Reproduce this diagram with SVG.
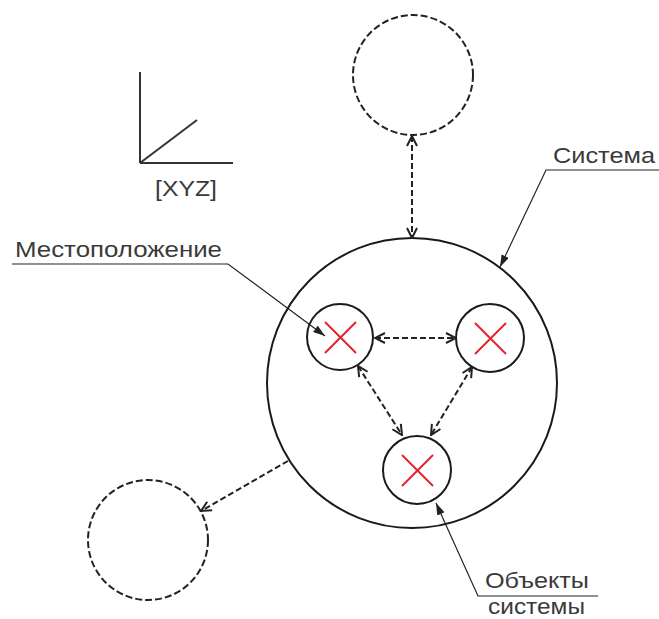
<svg xmlns="http://www.w3.org/2000/svg" width="659" height="619" viewBox="0 0 659 619">
<style>
.solid{fill:none;stroke:#1a1a1a;stroke-width:2}
.dcirc{fill:none;stroke:#222;stroke-width:2;stroke-dasharray:7 3}
.dline{fill:none;stroke:#222;stroke-width:2;stroke-dasharray:6 3}
.lead{fill:none;stroke:#222;stroke-width:1.2}
.x{stroke:#e8202a;stroke-width:2}
.t{font-family:"Liberation Sans",Arial,sans-serif;font-size:22px;fill:#3a3a3a}
</style>
<defs>
<marker id="v" viewBox="0 0 12 12" refX="11" refY="6" markerWidth="12" markerHeight="12" markerUnits="userSpaceOnUse" orient="auto-start-reverse">
<path d="M1,1 L11,6 L1,11" fill="none" stroke="#222" stroke-width="2"/>
</marker>
<marker id="f" viewBox="0 0 12 8" refX="12" refY="4" markerWidth="12" markerHeight="8" markerUnits="userSpaceOnUse" orient="auto">
<path d="M0,0 L12,4 L0,8 Z" fill="#222"/>
</marker>
</defs>
<g id="axes">
<line x1="140" y1="72" x2="140" y2="163" stroke="#333" stroke-width="2"/>
<line x1="140" y1="163" x2="233" y2="163" stroke="#333" stroke-width="2"/>
<line x1="140" y1="163" x2="197" y2="120" stroke="#333" stroke-width="2"/>
<text class="t" x="155" y="196" textLength="62" lengthAdjust="spacingAndGlyphs">[XYZ]</text>
</g>
<g id="system"><circle class="solid" cx="412" cy="383" r="145"/></g>
<g id="top-external"><circle class="dcirc" cx="413" cy="75" r="60"/></g>
<g id="left-external"><circle class="dcirc" cx="148" cy="540" r="60"/></g>
<g id="obj-left"><circle class="solid" cx="340" cy="337" r="33"/><line class="x" x1="325" y1="322" x2="356" y2="353"/><line class="x" x1="356" y1="322" x2="325" y2="353"/></g>
<g id="obj-right"><circle class="solid" cx="490" cy="338" r="34"/><line class="x" x1="475" y1="323" x2="506" y2="354"/><line class="x" x1="506" y1="323" x2="475" y2="354"/></g>
<g id="obj-bottom"><circle class="solid" cx="417" cy="470" r="34"/><line class="x" x1="402" y1="455" x2="433" y2="486"/><line class="x" x1="433" y1="455" x2="402" y2="486"/></g>
<g id="connectors">
<line class="dline" x1="412" y1="136" x2="412" y2="238" marker-start="url(#v)" marker-end="url(#v)"/>
<line class="dline" x1="288" y1="461" x2="201" y2="511" marker-end="url(#v)"/>
<line class="dline" x1="375" y1="338" x2="456" y2="338" marker-start="url(#v)" marker-end="url(#v)"/>
<line class="dline" x1="358" y1="366" x2="402" y2="435" marker-start="url(#v)" marker-end="url(#v)"/>
<line class="dline" x1="472" y1="367" x2="431" y2="435" marker-start="url(#v)" marker-end="url(#v)"/>
</g>
<g id="label-location">
<text class="t" x="15" y="257" textLength="207" lengthAdjust="spacingAndGlyphs">Местоположение</text>
<polyline class="lead" points="12,264 228,264 325,336" marker-end="url(#f)"/>
</g>
<g id="label-system">
<text class="t" x="553" y="163" textLength="102" lengthAdjust="spacingAndGlyphs">Система</text>
<polyline class="lead" points="659,170 546,170 500,267" marker-end="url(#f)"/>
</g>
<g id="label-objects">
<text class="t" x="485" y="588" textLength="104" lengthAdjust="spacingAndGlyphs">Объекты</text>
<text class="t" x="488" y="614" textLength="97" lengthAdjust="spacingAndGlyphs">системы</text>
<polyline class="lead" points="598,596 478,596 436,503" marker-end="url(#f)"/>
</g>
</svg>
